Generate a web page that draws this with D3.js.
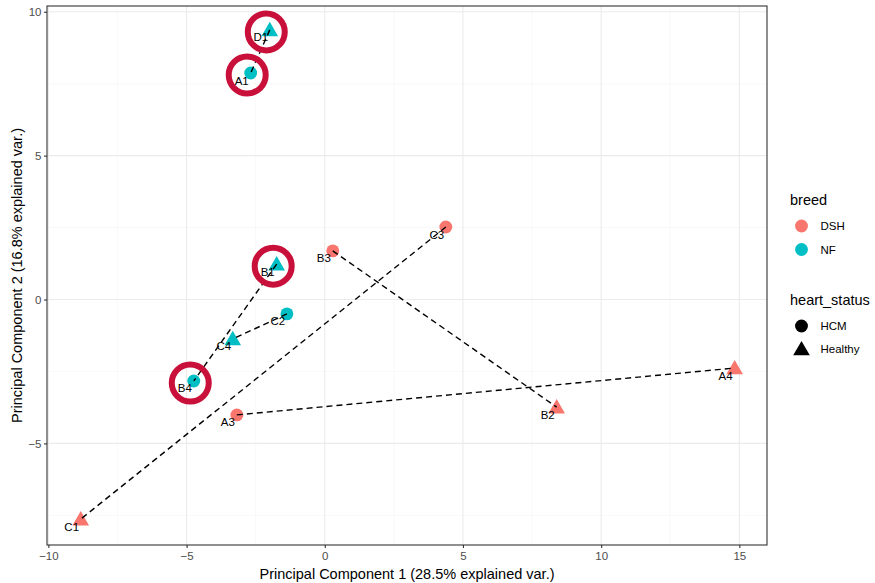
<!DOCTYPE html>
<html>
<head>
<meta charset="utf-8">
<script src="https://cdn.jsdelivr.net/npm/d3@7"></script>
<style>
  html, body { margin: 0; padding: 0; background: #ffffff; }
  svg { display: block; font-family: "Liberation Sans", Arial, sans-serif; }
</style>
</head>
<body>
<svg id="chart" width="875" height="583"></svg>
<script>
// PCA scores per sample
const samples  = ["D1", "A1", "B1", "C2", "C4", "B4", "B3", "C3", "A3", "C1", "B2", "A4"];
const pc1      = [-1.99, -2.68, -1.74, -1.37, -3.33, -4.74, 0.29, 4.38, -3.18, -8.83, 8.39, 14.83];
const pc2      = [9.37, 7.87, 1.23, -0.50, -1.37, -2.83, 1.69, 2.52, -4.01, -7.63, -3.74, -2.38];
const breed    = ["NF", "NF", "NF", "NF", "NF", "NF", "DSH", "DSH", "DSH", "DSH", "DSH", "DSH"];
const status   = ["Healthy", "HCM", "Healthy", "HCM", "Healthy", "HCM", "HCM", "HCM", "HCM", "Healthy", "Healthy", "Healthy"];

// Paired samples joined by dashed segments
const pairFrom = ["D1", "B1", "C2", "C3", "B3", "A3"];
const pairTo   = ["A1", "B4", "C4", "C1", "B2", "A4"];

// Samples highlighted with a ring
const ringed   = ["D1", "A1", "B1", "B4"];

const breedLevels  = ["DSH", "NF"];
const statusLevels = ["HCM", "Healthy"];
const xTicks = [-10, -5, 0, 5, 10, 15];
const yTicks = [-5, 0, 5, 10];
const xMinor = [-7.5, -2.5, 2.5, 7.5, 12.5];
const yMinor = [-7.5, -2.5, 2.5, 7.5];

const svg = d3.select("#chart");
const panel = { left: 47, right: 767, top: 6, bottom: 545 };

const x = d3.scaleLinear().domain([-10.05, 16.0]).range([panel.left, panel.right]);
const y = d3.scaleLinear().domain([-8.53, 10.2]).range([panel.bottom, panel.top]);
const colour = d3.scaleOrdinal().domain(breedLevels).range(["#F8766D", "#00BFC4"]);
const shape = d3.scaleOrdinal().domain(statusLevels).range([d3.symbolCircle, d3.symbolTriangle]);
const shapeSize = d3.scaleOrdinal().domain(statusLevels).range([130, 120]);

const rows = samples.map((s, i) => ({ id: s, pc1: pc1[i], pc2: pc2[i], breed: breed[i], status: status[i] }));
const byId = new Map(rows.map(r => [r.id, r]));

// Panel background and grid
svg.append("rect")
  .attr("x", panel.left).attr("y", panel.top)
  .attr("width", panel.right - panel.left).attr("height", panel.bottom - panel.top)
  .attr("fill", "#ffffff");

const grid = svg.append("g");
grid.selectAll("line.xminor").data(xMinor).join("line")
  .attr("x1", d => x(d)).attr("x2", d => x(d))
  .attr("y1", panel.top).attr("y2", panel.bottom)
  .attr("stroke", "#F5F5F5").attr("stroke-width", 0.6);
grid.selectAll("line.yminor").data(yMinor).join("line")
  .attr("y1", d => y(d)).attr("y2", d => y(d))
  .attr("x1", panel.left).attr("x2", panel.right)
  .attr("stroke", "#F5F5F5").attr("stroke-width", 0.6);
grid.selectAll("line.xmajor").data(xTicks).join("line")
  .attr("x1", d => x(d)).attr("x2", d => x(d))
  .attr("y1", panel.top).attr("y2", panel.bottom)
  .attr("stroke", "#EBEBEB").attr("stroke-width", 1.1);
grid.selectAll("line.ymajor").data(yTicks).join("line")
  .attr("y1", d => y(d)).attr("y2", d => y(d))
  .attr("x1", panel.left).attr("x2", panel.right)
  .attr("stroke", "#EBEBEB").attr("stroke-width", 1.1);

// Points
svg.append("g").selectAll("path").data(rows).join("path")
  .attr("transform", d => `translate(${x(d.pc1)},${y(d.pc2) + (d.status === "Healthy" ? 1.5 : 0)})`)
  .attr("d", d => d3.symbol().type(shape(d.status)).size(shapeSize(d.status))())
  .attr("fill", d => colour(d.breed));

// Dashed pair connectors
const pairs = pairFrom.map((a, i) => ({ a: byId.get(a), b: byId.get(pairTo[i]) }));
svg.append("g").selectAll("line").data(pairs).join("line")
  .attr("x1", d => x(d.a.pc1)).attr("y1", d => y(d.a.pc2))
  .attr("x2", d => x(d.b.pc1)).attr("y2", d => y(d.b.pc2))
  .attr("stroke", "#000000").attr("stroke-width", 1.4)
  .attr("stroke-dasharray", "6,4");

// Sample labels, set just below-left of each point
svg.append("g").selectAll("text").data(rows).join("text")
  .attr("x", d => x(d.pc1) - 9)
  .attr("y", d => y(d.pc2) + 7.5)
  .attr("text-anchor", "middle")
  .attr("dominant-baseline", "central")
  .attr("font-size", 11.5)
  .attr("fill", "#000000")
  .text(d => d.id);

// Highlight rings
svg.append("g").selectAll("circle").data(ringed.map(id => byId.get(id))).join("circle")
  .attr("cx", d => x(d.pc1) - 3.5)
  .attr("cy", d => y(d.pc2) + 2)
  .attr("r", 18.5)
  .attr("fill", "none")
  .attr("stroke", "#C8103A")
  .attr("stroke-width", 6);

// Panel border
svg.append("rect")
  .attr("x", panel.left).attr("y", panel.top)
  .attr("width", panel.right - panel.left).attr("height", panel.bottom - panel.top)
  .attr("fill", "none").attr("stroke", "#333333").attr("stroke-width", 1.1);

// Axes
const xAxis = svg.append("g")
  .attr("transform", `translate(0,${panel.bottom})`)
  .call(d3.axisBottom(x).tickValues(xTicks).tickSize(3).tickPadding(3.5).tickFormat(d3.format("d")));
const yAxis = svg.append("g")
  .attr("transform", `translate(${panel.left},0)`)
  .call(d3.axisLeft(y).tickValues(yTicks).tickSize(3).tickPadding(2.5).tickFormat(d3.format("d")));
[xAxis, yAxis].forEach(g => {
  g.select(".domain").remove();
  g.selectAll(".tick line").attr("stroke", "#333333").attr("stroke-width", 1.1);
  g.selectAll(".tick text").attr("fill", "#4D4D4D").attr("font-size", 11.5)
    .attr("font-family", "Liberation Sans, Arial, sans-serif");
});

// Axis titles
svg.append("text")
  .attr("x", (panel.left + panel.right) / 2).attr("y", 579)
  .attr("text-anchor", "middle").attr("font-size", 14.5).attr("fill", "#000000")
  .text("Principal Component 1 (28.5% explained var.)");
svg.append("text")
  .attr("transform", `translate(22,${(panel.top + panel.bottom) / 2}) rotate(-90)`)
  .attr("text-anchor", "middle").attr("font-size", 14.5).attr("fill", "#000000")
  .text("Principal Component 2 (16.8% explained var.)");

// Legends
const legend = svg.append("g");
legend.append("text").attr("x", 790).attr("y", 205).attr("font-size", 14.5).text("breed");
const breedKeys = legend.selectAll("g.breed").data(breedLevels).join("g")
  .attr("transform", (d, i) => `translate(801.5,${226 + i * 23.5})`);
breedKeys.append("path")
  .attr("d", d3.symbol().type(d3.symbolCircle).size(130)())
  .attr("fill", d => colour(d));
breedKeys.append("text").attr("x", 19).attr("dominant-baseline", "central")
  .attr("font-size", 11.5).text(d => d);

legend.append("text").attr("x", 790).attr("y", 305).attr("font-size", 14.5).text("heart_status");
const statusKeys = legend.selectAll("g.status").data(statusLevels).join("g")
  .attr("transform", (d, i) => `translate(801.5,${326 + i * 23})`);
statusKeys.append("path")
  .attr("transform", d => d === "Healthy" ? "translate(0,1.5)" : null)
  .attr("d", d => d3.symbol().type(shape(d)).size(shapeSize(d))())
  .attr("fill", "#000000");
statusKeys.append("text").attr("x", 19).attr("dominant-baseline", "central")
  .attr("font-size", 11.5).text(d => d);
</script>
</body>
</html>
